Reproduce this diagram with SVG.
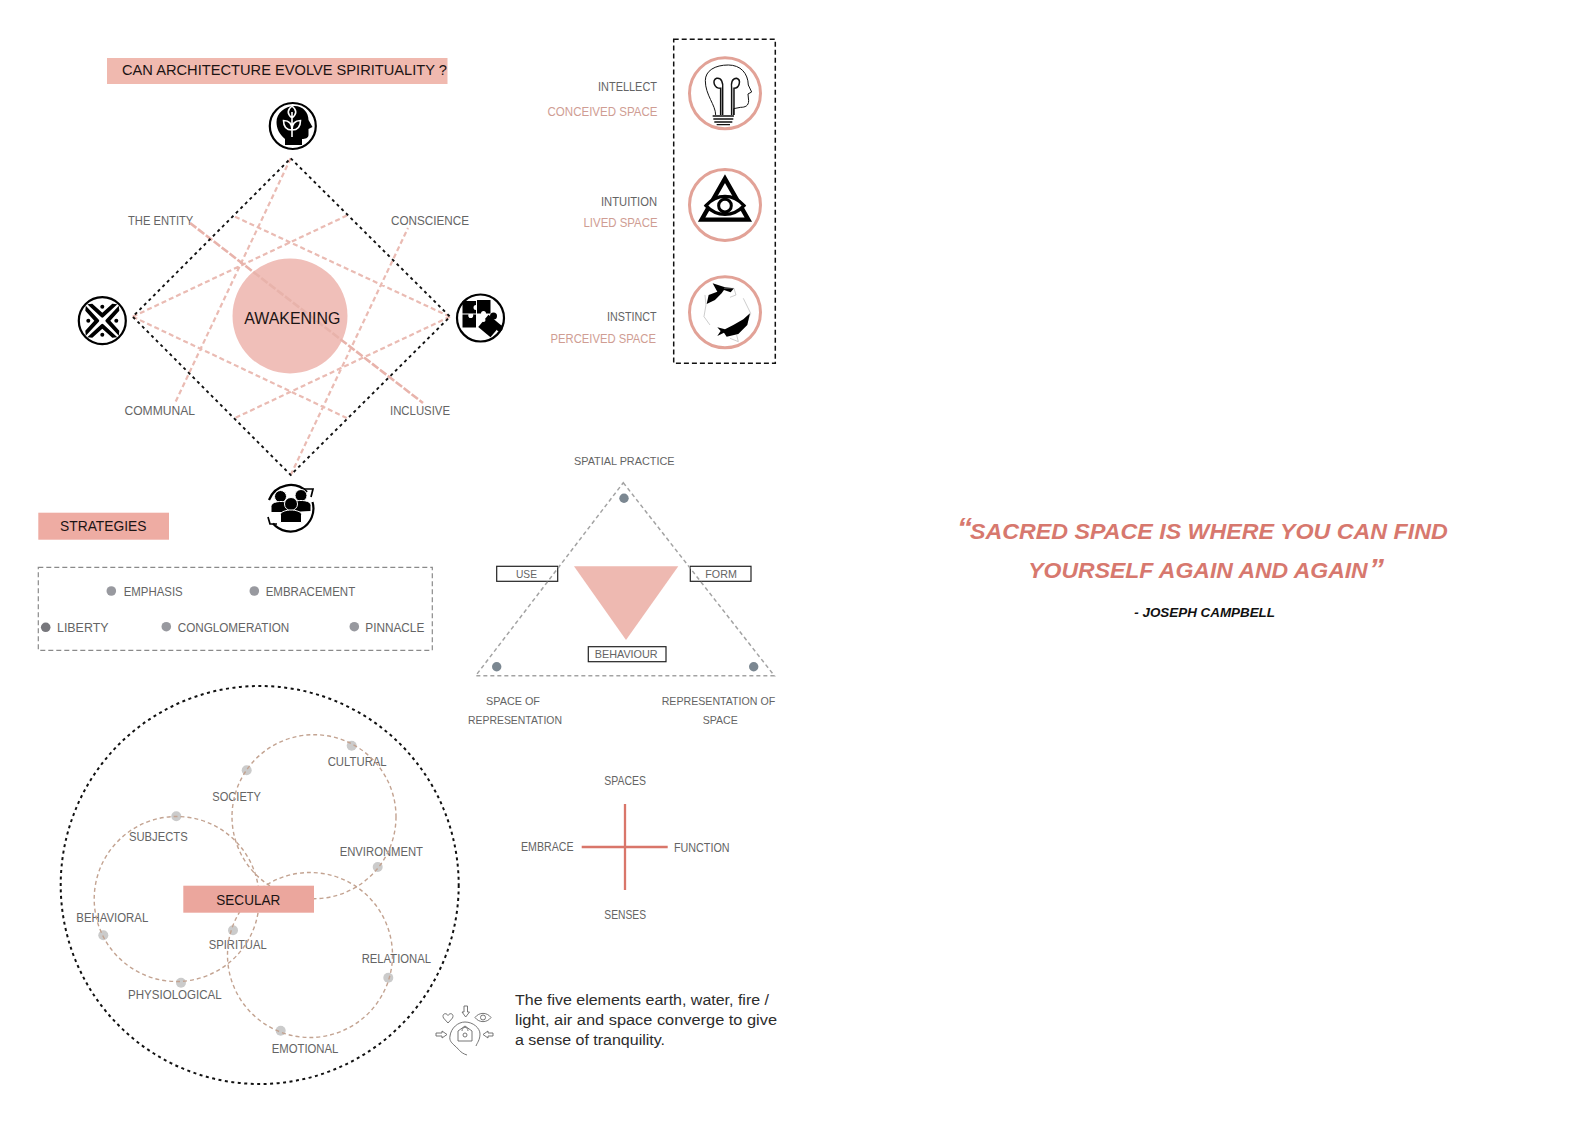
<svg xmlns="http://www.w3.org/2000/svg" width="1588" height="1123" viewBox="0 0 1588 1123">
<style>
text{font-family:"Liberation Sans",Arial,sans-serif;font-size:12px;fill:#646464}
.dk{fill:#1c1414;font-size:14.5px}
.rose{fill:#cf9d93}
.sm{font-size:11.5px}
.tg{font-size:11px}
.pl{fill:none;stroke:#eabbb3;stroke-width:2.200;stroke-dasharray:5 3}
.blk{fill:none;stroke:#111;stroke-width:1.900;stroke-dasharray:3 3.500}
.ring{fill:#fff;stroke:#000;stroke-width:2.200}
.pring{fill:#fff;stroke:#e2a297;stroke-width:3}
.tag{fill:none;stroke:#222;stroke-width:1.200}
.gl{fill:none;stroke:#a3a3a3;stroke-width:1.500;stroke-dasharray:4 3}
.tan{fill:none;stroke:#c3a391;stroke-width:1.400;stroke-dasharray:4 3}
.sd{fill:#98999f}
.td{fill:#7b8791}
.cd{fill:#cbcbcb}
.q{font-weight:bold;font-style:italic;fill:#d7786e;font-size:22px}
.qm{font-size:30px}
.ic{fill:none;stroke:#666;stroke-width:.9}
.body{font-size:15.500px;fill:#2c2c2c}
</style>
<defs>
<g id="weave-arm"><path d="M-15 -16.500L-1 -3.500L0 -3L1 -3.500L15 -16.500L10 -17L0 -8L-10 -17Z"/><circle cx="0" cy="-14" r="2"/></g>
</defs>
<rect width="1588" height="1123" fill="#fff"/>

<g id="title">
<rect x="107" y="58" width="340.500" height="26" fill="#f0b9af"/>
<text class="dk" x="122" y="75" textLength="325" lengthAdjust="spacingAndGlyphs">CAN ARCHITECTURE EVOLVE SPIRITUALITY ?</text>
</g>

<g id="awakening-hub">
<circle cx="290" cy="316" r="57.500" fill="#f0bfb9"/>
</g>

<g id="node-head">
<circle class="ring" cx="292.800" cy="126" r="23"/>
<path d="M285 145V139C279 134 276.500 128 276.500 122C276.500 113 285 106 294.500 106C303.500 106 308.500 113 308.500 120L312.500 127L308.500 129V135C308.500 138 305 139 302 139V145Z" fill="#000"/>
<path d="M292 137V112M292 106C287 110 287 114 292 118C297 114 297 110 292 106ZM292 130C286 130 283.500 126 283.500 120.500C289 120.500 292 124 292 130ZM292 130C298 130 300.500 126 300.500 120.500C295 120.500 292 124 292 130Z" fill="none" stroke="#fff" stroke-width="1.600"/>
</g>

<g id="node-weave">
<circle class="ring" cx="102.300" cy="320.700" r="23.500"/>
<g transform="translate(102.300 320.700)">
<use href="#weave-arm"/>
<use href="#weave-arm" transform="rotate(90)"/>
<use href="#weave-arm" transform="rotate(180)"/>
<use href="#weave-arm" transform="rotate(270)"/>
</g>
</g>

<g id="node-puzzle">
<circle class="ring" cx="480.500" cy="318" r="23.500"/>
<g transform="translate(480.500 318)">
<path d="M-18 -17H-4.500V-13A2.500 2.500 0 1 0 -4.500 -8V-4.500H-18ZM-3.500 -18H10V-4.500H5.500A2.500 2.500 0 1 0 0.500 -4.500H-3.500ZM-18 -3.500H-12A2.500 2.500 0 1 0 -7.500 -3.500H-4.500V9.500H-18Z" fill="#000"/>
<rect x="1" y="0" width="16" height="16" transform="rotate(40 9 8)" fill="#000"/>
<circle cx="13" cy="-2" r="3.500"/><circle cx="19" cy="10" r="3.200"/><circle cx="3" cy="2" r="2" fill="#fff"/>
</g>
</g>

<g id="node-people">
<path d="M269 500A23 23 0 0 1 307 492M312.500 502A23 23 0 0 1 273 523.500" fill="none" stroke="#000" stroke-width="2.200"/>
<path d="M304 489L313 489L311 497M268 517L270 524L277 524" fill="none" stroke="#000" stroke-width="1.700"/>
<g transform="translate(290 507.500)" fill="#000" stroke="#fff" stroke-width="1">
<circle cx="-9.500" cy="-11" r="6"/><circle cx="11" cy="-12" r="6"/>
<path d="M-19 5V-1C-19 -5 -13 -6 -9 -6C-5 -6 1 -5 1 -1V5ZM1 5V-2C1 -6 7 -7 11 -7C15 -7 21 -6 21 -2V4Z"/>
<circle cx="1" cy="-3.500" r="6.500"/>
<path d="M-9.500 15V7C-9.500 4 -3 2.500 1 2.500C5 2.500 11.500 4 11.500 7V15Z"/>
</g>
</g>

<g id="space-box">
<rect x="673.700" y="39.300" width="101.600" height="324" fill="none" stroke="#111" stroke-width="1.500" stroke-dasharray="5 3"/>
</g>

<g id="node-intellect">
<text x="598" y="90.700" textLength="59" lengthAdjust="spacingAndGlyphs">INTELLECT</text>
<text class="rose" x="547.500" y="116" textLength="110" lengthAdjust="spacingAndGlyphs">CONCEIVED SPACE</text>
<circle class="pring" cx="725" cy="93.300" r="35.500"/>
<g transform="translate(530 30) scale(.3333)" fill="none" stroke="#111" stroke-width="3">
<path d="M557 255C557 225 526 195 526 152C526 122 555 105 595 105C632 105 654 130 655 165L665 186L654 192L656 212C656 228 645 232 632 232L611 236V255"/>
<path d="M572 255V175C552 175 545 150 560 145C575 142 580 160 578 175V255M605 255V175C603 160 605 145 620 145C635 150 628 175 612 175V255" stroke-width="4.500"/>
<path d="M548 258H612M550 267H610M553 276H607M560 284H600" stroke-width="4"/>
</g>
</g>

<g id="node-intuition">
<text x="601" y="205.700" textLength="56" lengthAdjust="spacingAndGlyphs">INTUITION</text>
<text class="rose" x="583.500" y="227.300" textLength="74" lengthAdjust="spacingAndGlyphs">LIVED SPACE</text>
<circle class="pring" cx="725" cy="205" r="35.500"/>
<g transform="translate(530 30) scale(.3333)" fill="none" stroke="#000">
<path d="M585 446L515 569H655Z" stroke-width="13"/>
<path d="M528 527C560 490 610 490 642 527C610 562 560 562 528 527Z" stroke-width="10" fill="#fff"/>
<circle cx="585" cy="527" r="19" stroke-width="9"/>
</g>
</g>

<g id="node-instinct">
<text x="607" y="321" textLength="49.500" lengthAdjust="spacingAndGlyphs">INSTINCT</text>
<text class="rose" x="550.500" y="343.300" textLength="105.500" lengthAdjust="spacingAndGlyphs">PERCEIVED SPACE</text>
<circle class="pring" cx="725" cy="312.300" r="35.500"/>
<g transform="translate(530 30) scale(.3333)">
<path d="M548 760L585 772L612 775L602 787L582 780L575 790L555 810L530 822L536 795L562 785Z" fill="#000"/>
<path d="M582 775L612 775L618 795L600 802M525 795L528 825L522 860L540 885M640 805L662 850L650 880" fill="none" stroke="#999" stroke-width="1.500"/>
<path d="M562 892L585 898L610 885L640 868L660 850L652 885L625 912L590 920L582 908L562 918L572 903Z" fill="#000"/>
<path d="M600 925L625 935L620 915" fill="none" stroke="#999" stroke-width="1.500"/>
</g>
</g>

<g id="strategies-tag">
<rect x="38.300" y="512.700" width="130.700" height="27" fill="#eeaca3"/>
<text class="dk" x="60" y="531.200" textLength="86.500" lengthAdjust="spacingAndGlyphs">STRATEGIES</text>
</g>

<g id="strategies-box">
<rect x="38.300" y="567.300" width="394" height="83" fill="none" stroke="#8a8a8a" stroke-width="1.200" stroke-dasharray="5 3"/>
</g>
<g id="strategy-emphasis"><circle class="sd" cx="111.300" cy="591" r="4.800"/><text x="123.700" y="595.500" textLength="59" lengthAdjust="spacingAndGlyphs">EMPHASIS</text></g>
<g id="strategy-embracement"><circle class="sd" cx="254.300" cy="591" r="4.800"/><text x="265.700" y="595.500" textLength="89.500" lengthAdjust="spacingAndGlyphs">EMBRACEMENT</text></g>
<g id="strategy-liberty"><circle cx="45.700" cy="627.300" r="4.800" fill="#77777c"/><text x="57" y="632" textLength="51.500" lengthAdjust="spacingAndGlyphs">LIBERTY</text></g>
<g id="strategy-conglomeration"><circle class="sd" cx="166.300" cy="626.700" r="4.800"/><text x="177.700" y="632" textLength="111.500" lengthAdjust="spacingAndGlyphs">CONGLOMERATION</text></g>
<g id="strategy-pinnacle"><circle class="sd" cx="354.300" cy="626.700" r="4.800"/><text x="365.300" y="632" textLength="59" lengthAdjust="spacingAndGlyphs">PINNACLE</text></g>

<g id="triad">
<polygon points="574,566.300 678.300,566.300 626,640" fill="#eeb9b1"/>
<g id="node-spatial"><circle class="td" cx="624" cy="498.300" r="4.700"/><text class="sm" x="574" y="465" textLength="100.500" lengthAdjust="spacingAndGlyphs">SPATIAL PRACTICE</text></g>
<g id="node-space-rep"><circle class="td" cx="496.700" cy="666.700" r="4.700"/><text class="sm" x="486" y="705" textLength="54" lengthAdjust="spacingAndGlyphs">SPACE OF</text><text class="sm" x="468" y="724.300" textLength="94" lengthAdjust="spacingAndGlyphs">REPRESENTATION</text></g>
<g id="node-rep-space"><circle class="td" cx="753.700" cy="666.700" r="4.700"/><text class="sm" x="661.700" y="705" textLength="113.500" lengthAdjust="spacingAndGlyphs">REPRESENTATION OF</text><text class="sm" x="702.700" y="724.300" textLength="35" lengthAdjust="spacingAndGlyphs">SPACE</text></g>
<g id="node-use"><rect class="tag" x="496.700" y="566.300" width="61" height="15"/><text class="tg" x="516" y="578" textLength="21" lengthAdjust="spacingAndGlyphs">USE</text></g>
<g id="node-form"><rect class="tag" x="690.300" y="566.300" width="60.700" height="15"/><text class="tg" x="705.300" y="578" textLength="31.500" lengthAdjust="spacingAndGlyphs">FORM</text></g>
<g id="node-behaviour"><rect class="tag" x="588.300" y="646.700" width="77.700" height="15"/><text class="tg" x="594.700" y="658.300" textLength="63" lengthAdjust="spacingAndGlyphs">BEHAVIOUR</text></g>
</g>

<g id="cross-labels">
<text x="604.300" y="785" textLength="41.700" lengthAdjust="spacingAndGlyphs">SPACES</text>
<text x="521" y="851" textLength="52.500" lengthAdjust="spacingAndGlyphs">EMBRACE</text>
<text x="674" y="852" textLength="55.500" lengthAdjust="spacingAndGlyphs">FUNCTION</text>
<text x="604.300" y="919" textLength="41.700" lengthAdjust="spacingAndGlyphs">SENSES</text>
</g>

<g id="diamond-labels">
<text x="128" y="225.300" textLength="65.300" lengthAdjust="spacingAndGlyphs">THE ENTITY</text>
<text x="391" y="225.300" textLength="78" lengthAdjust="spacingAndGlyphs">CONSCIENCE</text>
<text x="124.500" y="415" textLength="70.500" lengthAdjust="spacingAndGlyphs">COMMUNAL</text>
<text x="390" y="415" textLength="60" lengthAdjust="spacingAndGlyphs">INCLUSIVE</text>
</g>

<g id="node-cultural"><circle class="cd" cx="351.700" cy="745.700" r="5"/><text x="327.700" y="766.300" textLength="59" lengthAdjust="spacingAndGlyphs">CULTURAL</text></g>
<g id="node-society"><circle class="cd" cx="246.700" cy="770.300" r="5"/><text x="212.300" y="800.600" textLength="48.700" lengthAdjust="spacingAndGlyphs">SOCIETY</text></g>
<g id="node-subjects"><circle class="cd" cx="176.300" cy="816.300" r="5"/><text x="129" y="841.300" textLength="58.700" lengthAdjust="spacingAndGlyphs">SUBJECTS</text></g>
<g id="node-environment"><circle class="cd" cx="377.700" cy="867" r="5"/><text x="339.700" y="856" textLength="83.300" lengthAdjust="spacingAndGlyphs">ENVIRONMENT</text></g>
<g id="node-behavioral"><circle class="cd" cx="103.300" cy="935.300" r="5"/><text x="76.300" y="922.300" textLength="72" lengthAdjust="spacingAndGlyphs">BEHAVIORAL</text></g>
<g id="node-spiritual"><circle class="cd" cx="233" cy="930.300" r="5"/><text x="208.700" y="949" textLength="58" lengthAdjust="spacingAndGlyphs">SPIRITUAL</text></g>
<g id="node-relational"><circle class="cd" cx="388.300" cy="977.700" r="5"/><text x="361.700" y="963" textLength="69.300" lengthAdjust="spacingAndGlyphs">RELATIONAL</text></g>
<g id="node-physiological"><circle class="cd" cx="181" cy="982.700" r="5"/><text x="128" y="999" textLength="93.700" lengthAdjust="spacingAndGlyphs">PHYSIOLOGICAL</text></g>
<g id="node-emotional"><circle class="cd" cx="280.700" cy="1030.700" r="5"/><text x="271.700" y="1053" textLength="66.700" lengthAdjust="spacingAndGlyphs">EMOTIONAL</text></g>

<g id="connectors">
<path class="pl" d="M290.700 158.300L175 403M132.700 316.700L348 215M235 216.700L450 316.700M132.700 316.700L346.700 418M290.700 475L408 228M450 316.700L235 418"/>
<path d="M190 223L423 403" fill="none" stroke="#e8b3ab" stroke-width="2.600" stroke-dasharray="8 2"/>
<path class="blk" d="M290.700 158.300L450 316.700L290.700 475L132.700 316.700Z"/>
<path d="M625 804V890M581.700 847H667.700" fill="none" stroke="#d9766a" stroke-width="2.300"/>
<path class="gl" d="M623.300 482.700L774.300 675.700H475.700Z"/>
<circle class="tan" cx="314" cy="816.700" r="82"/>
<circle class="tan" cx="176.700" cy="899" r="82.500"/>
<circle class="tan" cx="310" cy="955" r="82.500"/>
<circle cx="259.700" cy="885" r="199" fill="none" stroke="#111" stroke-width="2" stroke-dasharray="3 3.500"/>
</g>

<g id="awakening-label"><text x="244.300" y="324" textLength="96" lengthAdjust="spacingAndGlyphs" style="font-size:17px;fill:#1c1414">AWAKENING</text></g>

<g id="secular">
<rect x="183.300" y="885.700" width="130.700" height="27" fill="#eba69d"/>
<text class="dk" x="216.300" y="904.700" textLength="64" lengthAdjust="spacingAndGlyphs">SECULAR</text>
</g>

<g id="elements-icon">
<path class="ic" d="M467 1055C460 1053 458 1048 455 1046C452 1043 449 1041 450 1036C451 1028 458 1022 465 1022C473 1022 480 1028 480 1034C480 1040 477 1043 476 1046"/>
<path class="ic" d="M465 1026L458 1031V1041H472V1031ZM462 1031C462 1026 468 1026 468 1031"/>
<circle class="ic" cx="465" cy="1035" r="2"/>
<path class="ic" d="M448 1023L443.500 1018C441.500 1014 446 1012 448 1015.500C450 1012 454.500 1014 452.500 1018Z"/>
<path class="ic" d="M464 1006H467.500V1012H469.500L465.700 1017L462 1012H464Z"/>
<path class="ic" d="M475 1017.500C479 1012 487 1012 491 1017.500C487 1023 479 1023 475 1017.500Z"/>
<circle class="ic" cx="483" cy="1017.500" r="2.500"/>
<path class="ic" d="M436 1033H442V1031L447 1034.500L442 1038V1036H436Z"/>
<path class="ic" d="M493 1033H488V1031L483 1034.500L488 1038V1036H493Z"/>
</g>
<g id="elements-text">
<text class="body" x="515" y="1005" textLength="254" lengthAdjust="spacingAndGlyphs">The five elements earth, water, fire /</text>
<text class="body" x="515" y="1025" textLength="262" lengthAdjust="spacingAndGlyphs">light, air and space converge to give</text>
<text class="body" x="515" y="1044.500" textLength="150" lengthAdjust="spacingAndGlyphs">a sense of tranquility.</text>
</g>

<g id="quote">
<text class="q qm" x="957" y="538">“</text>
<text class="q" x="970" y="539.300" textLength="477.700" lengthAdjust="spacingAndGlyphs">SACRED SPACE IS WHERE YOU CAN FIND</text>
<text class="q" x="1028.300" y="577.700" textLength="339.400" lengthAdjust="spacingAndGlyphs">YOURSELF AGAIN AND AGAIN</text>
<text class="q qm" x="1369" y="579">”</text>
<text x="1134.300" y="617.300" textLength="140.700" lengthAdjust="spacingAndGlyphs" style="font-size:12.500px;font-weight:bold;font-style:italic;fill:#111">- JOSEPH CAMPBELL</text>
</g>
</svg>
